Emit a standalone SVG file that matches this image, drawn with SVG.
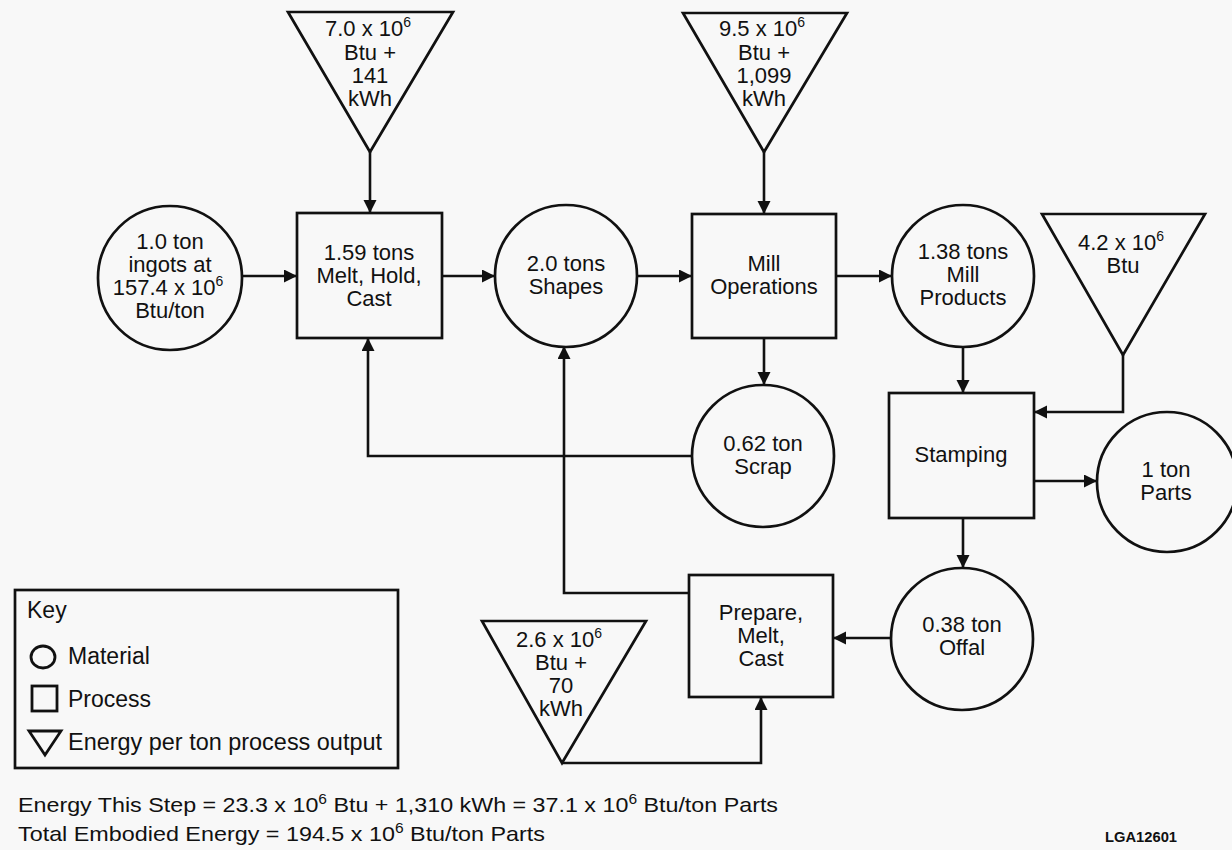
<svg xmlns="http://www.w3.org/2000/svg" width="1232" height="850" viewBox="0 0 1232 850">
<style>
  .bg { fill: #f8f8f8; }
  .shape { fill: none; stroke: #111; stroke-width: 2.7; }
  .conn { fill: none; stroke: #111; stroke-width: 2.6; marker-end: url(#arrow); }
  .line { fill: none; stroke: #111; stroke-width: 2.8; }
  text { font-family: "Liberation Sans", Arial, Helvetica, sans-serif; fill: #111; }
  .lbl { font-size: 22px; text-anchor: middle; }
  .key { font-size: 23px; }
  .foot { font-size: 21px; }
  .sup { font-size: 14px; }
  .code { font-size: 14px; font-weight: bold; }
</style>
<defs>
  <marker id="arrow" markerUnits="userSpaceOnUse" markerWidth="14" markerHeight="14" refX="13" refY="6.5" orient="auto">
    <path d="M0,0 L13,6.5 L0,13 z" fill="#111"/>
  </marker>
</defs>
<rect class="bg" x="0" y="0" width="1232" height="850"/>

<g id="connectors">
  <line class="conn" x1="243" y1="276" x2="297" y2="276"/>
  <line class="conn" x1="442" y1="276" x2="495" y2="276"/>
  <line class="conn" x1="637" y1="276" x2="692" y2="276"/>
  <line class="conn" x1="836" y1="276" x2="892" y2="276"/>
  <line class="conn" x1="370" y1="152" x2="370" y2="213"/>
  <line class="conn" x1="764" y1="152" x2="764" y2="214"/>
  <line class="conn" x1="764" y1="338" x2="764" y2="385"/>
  <path class="conn" d="M692,456 H368 V338"/>
  <path class="conn" d="M689,593 H564 V346"/>
  <line class="conn" x1="963" y1="347" x2="963" y2="393"/>
  <path class="conn" d="M1123,355 V412 H1034"/>
  <line class="conn" x1="1034" y1="481" x2="1097" y2="481"/>
  <line class="conn" x1="963" y1="518" x2="963" y2="568"/>
  <line class="conn" x1="891" y1="638" x2="833" y2="638"/>
  <path class="conn" d="M562,763 H761 V697"/>
</g>

<g id="energy1">
  <polygon class="shape" points="288,12 453,12 370,152"/>
  <text class="lbl"><tspan x="368" y="36">7.0 x 10<tspan class="sup" dy="-9">6</tspan></tspan><tspan x="370" y="60">Btu +</tspan><tspan x="370" y="83">141</tspan><tspan x="370" y="106">kWh</tspan></text>
</g>

<g id="energy2">
  <polygon class="shape" points="683,13 847,13 764,152"/>
  <text class="lbl"><tspan x="762" y="36">9.5 x 10<tspan class="sup" dy="-9">6</tspan></tspan><tspan x="764" y="60">Btu +</tspan><tspan x="764" y="83">1,099</tspan><tspan x="764" y="106">kWh</tspan></text>
</g>

<g id="energy3">
  <polygon class="shape" points="1042,214 1205,214 1123,355"/>
  <text class="lbl"><tspan x="1121" y="250">4.2 x 10<tspan class="sup" dy="-9">6</tspan></tspan><tspan x="1123" y="273">Btu</tspan></text>
</g>

<g id="energy4">
  <polygon class="shape" points="482,621 646,621 562,763"/>
  <text class="lbl"><tspan x="559" y="647">2.6 x 10<tspan class="sup" dy="-9">6</tspan></tspan><tspan x="561" y="670">Btu +</tspan><tspan x="561" y="693">70</tspan><tspan x="561" y="716">kWh</tspan></text>
</g>

<g id="ingots">
  <circle class="shape" cx="170" cy="278" r="72"/>
  <text class="lbl"><tspan x="170" y="249">1.0 ton</tspan><tspan x="170" y="272">ingots at</tspan><tspan x="168" y="295">157.4 x 10<tspan class="sup" dy="-9">6</tspan></tspan><tspan x="170" y="318">Btu/ton</tspan></text>
</g>

<g id="melt-hold-cast">
  <rect class="shape" x="297" y="213" width="145" height="125"/>
  <text class="lbl"><tspan x="369" y="260">1.59 tons</tspan><tspan x="369" y="283">Melt, Hold,</tspan><tspan x="369" y="306">Cast</tspan></text>
</g>

<g id="shapes">
  <circle class="shape" cx="566" cy="276" r="71"/>
  <text class="lbl"><tspan x="566" y="271">2.0 tons</tspan><tspan x="566" y="294">Shapes</tspan></text>
</g>

<g id="mill-operations">
  <rect class="shape" x="692" y="214" width="144" height="124"/>
  <text class="lbl"><tspan x="764" y="271">Mill</tspan><tspan x="764" y="294">Operations</tspan></text>
</g>

<g id="mill-products">
  <circle class="shape" cx="963" cy="276" r="71"/>
  <text class="lbl"><tspan x="963" y="259">1.38 tons</tspan><tspan x="963" y="282">Mill</tspan><tspan x="963" y="305">Products</tspan></text>
</g>

<g id="scrap">
  <circle class="shape" cx="763" cy="456" r="71"/>
  <text class="lbl"><tspan x="763" y="451">0.62 ton</tspan><tspan x="763" y="474">Scrap</tspan></text>
</g>

<g id="stamping">
  <rect class="shape" x="889" y="393" width="145" height="125"/>
  <text class="lbl" x="961" y="462">Stamping</text>
</g>

<g id="parts">
  <circle class="shape" cx="1167" cy="482" r="70"/>
  <text class="lbl"><tspan x="1166" y="477">1 ton</tspan><tspan x="1166" y="500">Parts</tspan></text>
</g>

<g id="offal">
  <circle class="shape" cx="962" cy="639" r="71"/>
  <text class="lbl"><tspan x="962" y="632">0.38 ton</tspan><tspan x="962" y="655">Offal</tspan></text>
</g>

<g id="prepare-melt-cast">
  <rect class="shape" x="689" y="575" width="144" height="122"/>
  <text class="lbl"><tspan x="761" y="620">Prepare,</tspan><tspan x="761" y="643">Melt,</tspan><tspan x="761" y="666">Cast</tspan></text>
</g>

<g id="key">
  <rect class="shape" x="15" y="590" width="383" height="178"/>
  <text class="key" x="27" y="618">Key</text>
  <ellipse class="line" cx="43" cy="657" rx="12" ry="11"/>
  <text class="key" x="68" y="664">Material</text>
  <rect class="line" x="32" y="686" width="25" height="25"/>
  <text class="key" x="68" y="707">Process</text>
  <polygon class="line" points="29,731 61,731 45,755"/>
  <text class="key" x="68" y="750" textLength="314" lengthAdjust="spacingAndGlyphs">Energy per ton process output</text>
</g>

<g id="footer">
  <text class="foot" x="18" y="812" textLength="760" lengthAdjust="spacingAndGlyphs">Energy This Step = 23.3 x 10<tspan class="sup" dy="-8">6</tspan><tspan dy="8"> Btu + 1,310 kWh = 37.1 x 10</tspan><tspan class="sup" dy="-8">6</tspan><tspan dy="8"> Btu/ton Parts</tspan></text>
  <text class="foot" x="18" y="841" textLength="527" lengthAdjust="spacingAndGlyphs">Total Embodied Energy = 194.5 x 10<tspan class="sup" dy="-8">6</tspan><tspan dy="8"> Btu/ton Parts</tspan></text>
  <text class="code" x="1105" y="842" textLength="72" lengthAdjust="spacingAndGlyphs">LGA12601</text>
</g>
</svg>
